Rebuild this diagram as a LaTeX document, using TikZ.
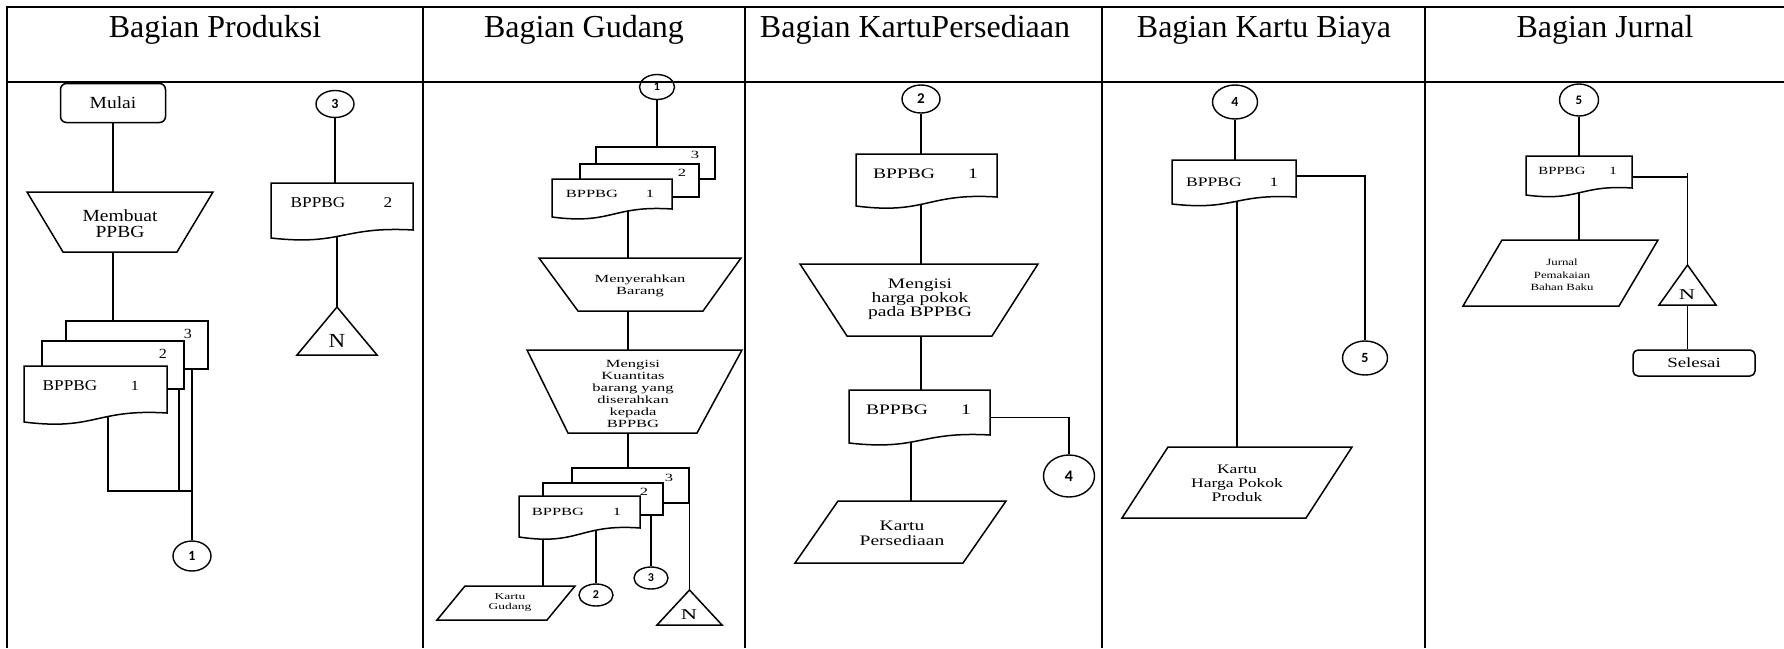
\documentclass[tikz,border=0pt]{standalone}
\usepackage{fontspec}
\setmainfont{Liberation Serif}
\newfontfamily\fA[FakeStretch=1.15]{Liberation Serif}
\newfontfamily\fB[FakeStretch=1.35]{Liberation Serif}
\newfontfamily\fC[FakeStretch=1.5]{Liberation Serif}
\newfontfamily\numf{Carlito}
\usetikzlibrary{shapes.geometric,calc}
\pgfdeclarelayer{bg}
\pgfsetlayers{bg,main}
\tikzset{
  tbl/.style={line width=2.5pt},
  ln/.style={line width=1.2pt},
  shp/.style={line width=1.5pt, draw=black, fill=white},
  box/.style={rectangle, draw=none, inner sep=0pt, outer sep=0pt},
  con/.style={ellipse, draw, line width=1.4pt, inner sep=0pt, font=\numf\bfseries\fontsize{14}{14}\selectfont},
  txt/.style={inner sep=0pt, align=center},
  hdr/.style={anchor=base, inner sep=0pt, font=\fontsize{32}{36}\selectfont},
  tA/.style={txt, font=\fA\fontsize{16}{16}\selectfont},
  tC/.style={txt, font=\fC\fontsize{11}{12}\selectfont},
}
\newcommand{\docpath}[2]{\path[shp] (#1.north west) -- (#1.north east) -- (#1.south east) .. controls ($(#1.south)+(0,-0.5*#2)$) and ($(#1.south)+(0,2*#2)$) .. ($(#1.south west)+(0,#2)$) -- cycle;}
\newcommand{\trappath}[3]{\path[shp] (#1.north west) -- (#1.north east) -- ($(#1.south east)+(-#3,0)$) -- ($(#1.south west)+(#2,0)$) -- cycle;}
\newcommand{\parpath}[2]{\path[shp] ($(#1.north west)+(#2,0)$) -- (#1.north east) -- ($(#1.south east)+(-#2,0)$) -- (#1.south west) -- cycle;}
\newcommand{\tripath}[1]{\path[shp] (#1.north) -- (#1.south east) -- (#1.south west) -- cycle;}
\begin{document}
\begin{tikzpicture}[x=1pt,y=-1pt]
\useasboundingbox (0,0) rectangle (1784,648);

% ---------------- Column 1: Produksi ----------------
\node[shp, rounded corners=6pt, minimum width=105pt, minimum height=39pt, inner sep=0pt, font=\fA\fontsize{17}{17}\selectfont] (mulai) at (113,103) {Mulai};
\node[box, minimum width=186pt, minimum height=60pt] (trP) at (120,222) {};
\trappath{trP}{36}{36}
\node[txt, font=\fA\fontsize{17}{16}\selectfont] (trPt) at (120,224) {Membuat\\PPBG};
\node[shp, minimum width=142pt, minimum height=48pt, inner sep=0pt] (pc) at (137,345) {};
\node[shp, minimum width=142pt, minimum height=48pt, inner sep=0pt] (pb) at (113,365) {};
\node[box, minimum width=143pt, minimum height=47pt] (pa) at (95.5,389.5) {};
\docpath{pa}{9}
\node[tA, font=\fA\fontsize{15}{15}\selectfont] (pat) at (70,386) {BPPBG};
\node[tA, font=\fA\fontsize{14}{14}\selectfont] (pan) at (135,386) {1};
\node[tA, font=\fA\fontsize{14}{14}\selectfont] (pbn) at (163,354) {2};
\node[tA, font=\fA\fontsize{14}{14}\selectfont] (pcn) at (188,334) {3};
\node[con, minimum width=38pt, minimum height=30pt] (c1) at (192,556) {1};
\coordinate (j1) at (192,491);

\node[con, minimum width=38pt, minimum height=27pt] (c3a) at (335,104) {3};
\node[box, minimum width=142pt, minimum height=47pt] (p2) at (342,206.5) {};
\docpath{p2}{8}
\node[tA, font=\fA\fontsize{15}{15}\selectfont] (p2t) at (318,203) {BPPBG};
\node[tA, font=\fA\fontsize{15}{15}\selectfont] (p2n) at (388,203) {2};
\node[box, minimum width=80pt, minimum height=48pt] (tri1) at (337,331) {};
\tripath{tri1}
\node[tA, font=\fA\fontsize{20}{20}\selectfont] (tri1t) at (337,341) {N};

% ---------------- Column 2: Gudang ----------------
\node[con, minimum width=35pt, minimum height=25pt, font=\numf\bfseries\fontsize{12}{12}\selectfont] (c1b) at (657,87) {1};
\node[shp, minimum width=119pt, minimum height=32pt, inner sep=0pt] (gc) at (655.5,163) {};
\node[shp, minimum width=119pt, minimum height=33pt, inner sep=0pt] (gb) at (639.5,180.5) {};
\node[box, minimum width=120pt, minimum height=30pt] (ga) at (612,194) {};
\docpath{ga}{8}
\node[tC] (gat) at (592,194) {BPPBG};
\node[tC] (gan) at (650,194) {1};
\node[tC] (gbn) at (682,173) {2};
\node[tC] (gcn) at (695,155) {3};

\node[box, minimum width=202pt, minimum height=53pt] (trA) at (640,284.5) {};
\trappath{trA}{39}{38}
\node[tC] (trAt) at (640,286) {Menyerahkan\\Barang};
\node[box, minimum width=215pt, minimum height=83pt] (trB) at (634.5,391.5) {};
\trappath{trB}{41}{45}
\node[tC] (trBt) at (633,394) {Mengisi\\Kuantitas\\barang yang\\diserahkan\\kepada\\BPPBG};

\node[shp, minimum width=117pt, minimum height=35pt, inner sep=0pt] (hc) at (630.5,485.5) {};
\node[shp, minimum width=120pt, minimum height=32pt, inner sep=0pt] (hb) at (603,499) {};
\node[box, minimum width=121pt, minimum height=32pt] (ha) at (579.5,512) {};
\docpath{ha}{9}
\node[tC] (hat) at (558,512) {BPPBG};
\node[tC] (han) at (617,512) {1};
\node[tC] (hbn) at (644,492) {2};
\node[tC] (hcn) at (669,478) {3};

\node[box, minimum width=138pt, minimum height=34pt] (kg) at (506,603) {};
\parpath{kg}{28}
\node[txt, font=\fC\fontsize{9}{10}\selectfont] (kgt) at (510,603) {Kartu\\Gudang};
\node[con, minimum width=34pt, minimum height=22pt, font=\numf\bfseries\fontsize{12}{12}\selectfont] (c2b) at (596,595) {2};
\node[con, minimum width=34pt, minimum height=22pt, font=\numf\bfseries\fontsize{12}{12}\selectfont] (c3b) at (651,578) {3};
\node[box, minimum width=65pt, minimum height=35pt] (tri2) at (689.5,607.5) {};
\tripath{tri2}
\node[txt, font=\fC\fontsize{15}{15}\selectfont] (tri2t) at (689,615) {N};

% ---------------- Column 3: Kartu Persediaan ----------------
\node[con, minimum width=38pt, minimum height=28pt, font=\numf\bfseries\fontsize{15}{15}\selectfont] (c2c) at (921,99) {2};
\node[box, minimum width=141pt, minimum height=43pt] (kd1) at (926.5,175.5) {};
\docpath{kd1}{9}
\node[txt, font=\fB\fontsize{14.5}{14}\selectfont] (kd1t) at (904,174) {BPPBG};
\node[txt, font=\fB\fontsize{14.5}{14}\selectfont] (kd1n) at (973,174) {1};
\node[box, minimum width=238pt, minimum height=72pt] (trK) at (919,300) {};
\trappath{trK}{47}{46}
\node[txt, font=\fB\fontsize{14.5}{14}\selectfont] (trKt) at (920,299) {Mengisi\\harga pokok\\pada BPPBG};
\node[box, minimum width=141pt, minimum height=45pt] (kd2) at (919.5,412.5) {};
\docpath{kd2}{8}
\node[txt, font=\fB\fontsize{14.5}{14}\selectfont] (kd2t) at (897,410) {BPPBG};
\node[txt, font=\fB\fontsize{14.5}{14}\selectfont] (kd2n) at (966,410) {1};
\node[con, minimum width=51pt, minimum height=42pt, font=\numf\bfseries\fontsize{16}{16}\selectfont] (c4c) at (1069,476) {4};
\node[box, minimum width=211pt, minimum height=62pt] (kp) at (900.5,532) {};
\parpath{kp}{43}
\node[txt, font=\fB\fontsize{14.5}{15}\selectfont] (kpt) at (902,533) {Kartu\\Persediaan};

% ---------------- Column 4: Kartu Biaya ----------------
\node[con, minimum width=45pt, minimum height=34pt] (c4d) at (1235,102) {4};
\node[box, minimum width=124pt, minimum height=37pt] (bd) at (1234,178.5) {};
\docpath{bd}{7}
\node[txt, font=\fB\fontsize{13}{13}\selectfont] (bdt) at (1214,182) {BPPBG};
\node[txt, font=\fB\fontsize{13}{13}\selectfont] (bdn) at (1274,182) {1};
\node[con, minimum width=45pt, minimum height=34pt] (c5d) at (1365,358) {5};
\node[box, minimum width=230pt, minimum height=71pt] (bp) at (1237,482.5) {};
\parpath{bp}{46}
\node[txt, font=\fB\fontsize{13}{14}\selectfont] (bpt) at (1237,483) {Kartu\\Harga Pokok\\Produk};

% ---------------- Column 5: Jurnal ----------------
\node[con, minimum width=39pt, minimum height=32pt, font=\numf\bfseries\fontsize{13}{13}\selectfont] (c5e) at (1579,100) {5};
\node[box, minimum width=106pt, minimum height=32pt] (jd) at (1579,172) {};
\docpath{jd}{7}
\node[txt, font=\fB\fontsize{11}{11}\selectfont] (jdt) at (1562,171) {BPPBG};
\node[txt, font=\fB\fontsize{11}{11}\selectfont] (jdn) at (1613,171) {1};
\node[box, minimum width=57pt, minimum height=40pt] (tri5) at (1687.5,285) {};
\tripath{tri5}
\node[txt, font=\fC\fontsize{15}{15}\selectfont] (tri5t) at (1687,295) {N};
\node[box, minimum width=195pt, minimum height=66pt] (jp) at (1560.5,273) {};
\parpath{jp}{39}
\node[txt, font=\fB\fontsize{9.5}{12.5}\selectfont] (jpt) at (1562,275) {Jurnal\\Pemakaian\\Bahan Baku};
\node[shp, rounded corners=5pt, minimum width=122pt, minimum height=26pt, inner sep=0pt, font=\fB\fontsize{14}{14}\selectfont] (sel) at (1694,363) {Selesai};

% ---------------- Connectors ----------------
\begin{pgfonlayer}{bg}
% col 1
\draw[ln] (mulai.south) -- (mulai.south |- trP.north);
\draw[ln] (trP.south -| mulai.south) -- (pc.north -| mulai.south);
\coordinate (pa1) at ($(pa.center)+(12.5,0)$);
\coordinate (pb1) at ($(pb.center)+(66,0)$);
\draw[ln] (pa1) |- (j1);
\draw[ln] (pb1) -- (pb1 |- j1);
\draw[ln] (c1.north |- pc.center) -- (c1.north);
\draw[ln] (c3a.south) -- (c3a.south |- p2.north);
\draw[ln] (tri1.north |- p2.center) -- (tri1.north);
% col 2
\draw[ln] (c1b.south) -- (c1b.south |- gc.north);
\coordinate (ga1) at ($(ga.center)+(16,0)$);
\draw[ln] (ga1) -- (ga1 |- trA.north);
\draw[ln] (trA.south -| ga1) -- (trB.north -| ga1);
\draw[ln] (trB.south -| ga1) -- (hc.north -| ga1);
\coordinate (ha1) at ($(ha.center)+(-36.5,0)$);
\draw[ln] (ha1) -- (ha1 |- kg.north);
\draw[ln] (c2b.north |- ha.center) -- (c2b.north);
\draw[ln] (c3b.north |- hb.center) -- (c3b.north);
\draw[ln] (tri2.north |- hc.center) -- (tri2.north);
% col 3
\draw[ln] (c2c.south) -- (c2c.south |- kd1.north);
\draw[ln] (c2c.south |- kd1.center) -- (c2c.south |- trK.north);
\draw[ln] (c2c.south |- trK.center) -- (c2c.south |- kd2.north);
\draw[ln] ($(kd2.east)+(0,5)$) -| (c4c.north);
\coordinate (kd2b) at ($(kd2.center)+(-8.5,0)$);
\draw[ln] (kd2b) -- (kd2b |- kp.north);
% col 4
\draw[ln] (c4d.south) -- (c4d.south |- bd.north);
\draw[ln] ($(bd.east)+(0,-2.5)$) -| (c5d.north);
\draw[ln] (bp.north |- bd.center) -- (bp.north);
% col 5
\draw[ln] (c5e.south) -- (c5e.south |- jd.north);
\coordinate (j5) at ($(jd.east)+(-4,5)$);
\draw[ln] (j5) -- (j5 -| tri5.north);
\draw[ln] ($(tri5.north)+(0,-92)$) -- (tri5.north);
\draw[ln] (jd.center) -- (jd.center |- jp.north);
\draw[ln] (tri5.south) -- (tri5.south |- sel.north);
\end{pgfonlayer}

% ---------------- Table ----------------
\node[hdr] (h1) at (215,37) {Bagian Produksi};
\node[hdr] (h2) at (584,37) {Bagian Gudang};
\node[hdr] (h3) at (915,37) {Bagian KartuPersediaan};
\node[hdr] (h4) at (1264,37) {Bagian Kartu Biaya};
\node[hdr] (h5) at (1605,37) {Bagian Jurnal};
\draw[tbl] (5.75,7) -- (1784,7);
\draw[tbl] (5.75,82) -- (1784,82);
\draw[tbl] (7,7) -- (7,648);
\draw[tbl] (423,7) -- (423,648);
\draw[tbl] (745,7) -- (745,648);
\draw[tbl] (1102,7) -- (1102,648);
\draw[tbl] (1425,7) -- (1425,648);
\end{tikzpicture}
\end{document}
